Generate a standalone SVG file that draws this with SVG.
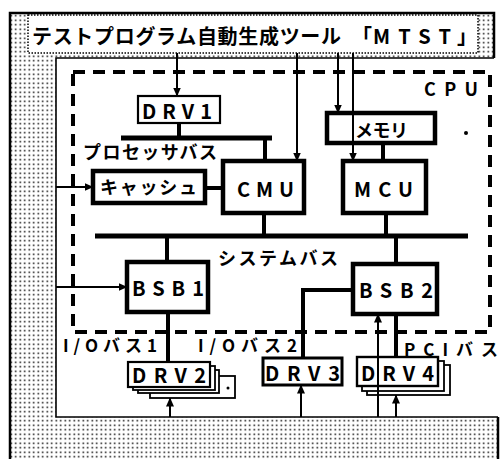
<svg xmlns="http://www.w3.org/2000/svg" width="502" height="459" viewBox="0 0 502 459">
<defs>
<pattern id="dots" width="4.5" height="4.5" patternUnits="userSpaceOnUse">
<rect x="1.5" y="1.5" width="1.5" height="1.5" fill="#000"/>
</pattern>
<marker id="ah" markerWidth="9" markerHeight="8" refX="8.5" refY="4" orient="auto" markerUnits="userSpaceOnUse">
<path d="M0,0 L9,4 L0,8 Z" fill="#000"/>
</marker>
</defs>
<style>
text{font-family:"Noto Sans CJK JP","Noto Sans",sans-serif;font-weight:700;fill:#000;dominant-baseline:central}
.box{fill:#fff;stroke:#000}
.thick{stroke-width:4.5}
.med{stroke-width:3}
.thin{stroke-width:2.2}
.bus{stroke:#000;stroke-width:5;fill:none}
.link{stroke:#000;stroke-width:4;fill:none}
.arr{stroke:#000;stroke-width:2;fill:none;marker-end:url(#ah)}
.lbl{font-size:18px}
</style>
<rect width="502" height="459" fill="#fff"/>
<g id="frame">
<path d="M10,13 H494 V58 H56 V417 H498 V459 H10 Z" fill="url(#dots)"/>
<path d="M10,459 V13 H494 V58" fill="none" stroke="#000" stroke-width="2.5"/>
<path d="M498,459 V417" fill="none" stroke="#000" stroke-width="2.5"/>
<path d="M494,58 H56 V417 H498" fill="none" stroke="#000" stroke-width="1.6"/>
<rect x="28" y="15" width="450" height="38" fill="#fff" stroke="#000" stroke-width="1.5" stroke-dasharray="1.5 1.5"/>
<text x="32" y="35" font-size="20" textLength="309" lengthAdjust="spacing">テストプログラム自動生成ツール</text>
<text x="352" y="35" font-size="20">「</text>
<text x="373" y="35" font-size="20" textLength="78" lengthAdjust="spacing">MTST</text>
<text x="457" y="35" font-size="20">」</text>
</g>
<g id="cpu">
<rect x="73" y="72" width="417" height="260" fill="none" stroke="#000" stroke-width="4" stroke-dasharray="12 8"/>
<text class="lbl" x="424" y="88" textLength="54" lengthAdjust="spacing">CPU</text>
<circle cx="466" cy="133" r="2" fill="#000"/>
</g>
<g id="labels">
<text class="lbl" x="83" y="151" textLength="134" lengthAdjust="spacing">プロセッサバス</text>
<text class="lbl" x="218" y="257" textLength="120" lengthAdjust="spacing">システムバス</text>
<text x="63" y="344" font-size="17" textLength="94" lengthAdjust="spacing">I/Oバス1</text>
<text x="198" y="344" font-size="17" textLength="99" lengthAdjust="spacing">I/Oバス2</text>
<text x="404" y="348" font-size="17" textLength="94" lengthAdjust="spacing">PCIバス</text>
</g>
<g id="buses">
<line class="bus" x1="121" y1="138" x2="272" y2="138"/>
<line class="bus" x1="95" y1="236" x2="468" y2="236"/>
</g>
<g id="links">
<line class="link" x1="179" y1="123" x2="179" y2="138"/>
<line class="link" x1="265" y1="138" x2="265" y2="162"/>
<line class="link" x1="205" y1="188" x2="223" y2="188"/>
<line class="link" x1="264" y1="213" x2="264" y2="236"/>
<line class="link" x1="383" y1="143" x2="383" y2="161"/>
<line class="link" x1="386" y1="213" x2="386" y2="236"/>
<line class="link" x1="167" y1="236" x2="167" y2="262"/>
<line class="link" x1="396" y1="236" x2="396" y2="264"/>
<line class="link" x1="168" y1="312" x2="168" y2="362" stroke-width="3"/>
<path class="link" d="M355,290 H303 V358"/>
<line class="link" x1="396" y1="314" x2="396" y2="357"/>
</g>
<g id="DRV1">
<rect class="box thin" x="138" y="96" width="82" height="27"/>
<text x="142" y="110" font-size="20" textLength="70" lengthAdjust="spacing">DRV1</text>
</g>
<g id="cache">
<rect class="box thick" x="93" y="171" width="112" height="32"/>
<text class="lbl" x="100" y="186" textLength="97" lengthAdjust="spacing">キャッシュ</text>
</g>
<g id="CMU">
<rect class="box thick" x="223" y="161" width="81" height="52"/>
<text x="237" y="188" font-size="20" textLength="57" lengthAdjust="spacing">CMU</text>
</g>
<g id="memory">
<rect class="box thick" x="327" y="113" width="108" height="30"/>
<text class="lbl" x="355" y="129" textLength="53" lengthAdjust="spacing">メモリ</text>
</g>
<g id="MCU">
<rect class="box thick" x="343" y="161" width="83" height="52"/>
<text x="354" y="188" font-size="20" textLength="59" lengthAdjust="spacing">MCU</text>
</g>
<g id="BSB1">
<rect class="box thick" x="127" y="262" width="81" height="50"/>
<text x="132" y="287" font-size="20" textLength="72" lengthAdjust="spacing">BSB1</text>
</g>
<g id="BSB2">
<rect class="box thick" x="353" y="264" width="84" height="50"/>
<text x="359" y="289" font-size="20" textLength="74" lengthAdjust="spacing">BSB2</text>
</g>
<g id="DRV2">
<rect class="box" stroke-width="1.8" x="150" y="376" width="85" height="22"/>
<circle cx="228" cy="388" r="1.5" fill="#000"/>
<rect class="box" stroke-width="1.8" x="138" y="370" width="81" height="23"/>
<rect class="box" stroke-width="1.8" x="133" y="366" width="82" height="24"/>
<rect class="box" stroke-width="2.2" x="128" y="362" width="82" height="25"/>
<text x="132" y="374" font-size="20" textLength="74" lengthAdjust="spacing">DRV2</text>
</g>
<g id="DRV3">
<rect class="box med" x="263" y="358" width="79" height="27"/>
<text x="265" y="372" font-size="20" textLength="75" lengthAdjust="spacing">DRV3</text>
</g>
<g id="DRV4">
<rect class="box" stroke-width="1.8" x="367" y="365" width="83" height="30"/>
<rect class="box" stroke-width="1.8" x="362" y="361" width="82" height="30"/>
<rect class="box" stroke-width="2.4" x="357" y="357" width="81" height="29"/>
<text x="361" y="372" font-size="20" textLength="73" lengthAdjust="spacing">DRV4</text>
</g>
<g id="connectors">
<line class="arr" x1="177" y1="53" x2="177" y2="96"/>
<line class="arr" x1="297" y1="53" x2="297" y2="161"/>
<line class="arr" x1="338" y1="53" x2="338" y2="113"/>
<line class="arr" x1="353" y1="53" x2="353" y2="161"/>
<line class="arr" x1="56" y1="187" x2="93" y2="187"/>
<line class="arr" x1="56" y1="287" x2="127" y2="287"/>
<line class="arr" x1="170" y1="417" x2="170" y2="398"/>
<line class="arr" x1="301" y1="417" x2="301" y2="385"/>
<line class="arr" x1="378" y1="417" x2="378" y2="314"/>
<line class="arr" x1="396" y1="417" x2="396" y2="395"/>
</g>
</svg>
